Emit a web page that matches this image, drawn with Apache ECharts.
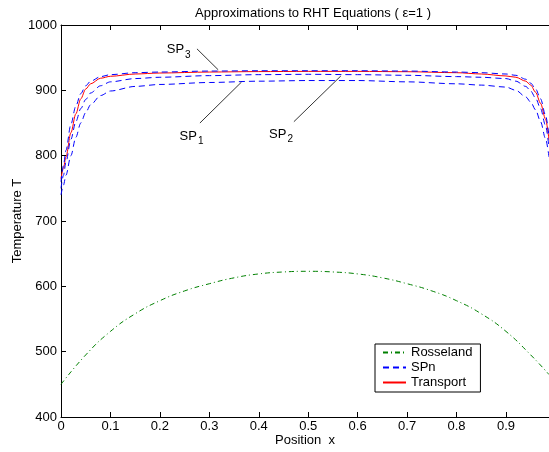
<!DOCTYPE html>
<html><head><meta charset="utf-8">
<script src="https://cdn.jsdelivr.net/npm/echarts@6/dist/echarts.min.js"></script>
<style>html,body{margin:0;padding:0;background:#fff}#c{width:549px;height:452px}</style>
</head><body><div id="c"></div>
<script>
// ---- data ----
const xSP = [0, 0.005, 0.01, 0.02, 0.03, 0.04, 0.05, 0.06, 0.08, 0.1, 0.15, 0.2, 0.3, 0.4, 0.5, 0.6, 0.7, 0.8, 0.85, 0.9, 0.92, 0.94, 0.95, 0.96, 0.97, 0.98, 0.987];
const transport = [765, 781, 798, 835, 864, 887, 902, 910, 918.5, 921.5, 925, 926.5, 928, 928.7, 929, 929, 928.5, 927, 925, 922, 920, 914, 908, 897, 880, 856, 824];
const sp3 = [760, 785, 808, 848, 876, 895, 907, 914, 921, 924, 927, 928, 929.5, 930, 930, 930, 929.5, 928, 927, 925, 923, 917, 911, 902, 887, 862, 830];
const sp2 = [750, 770, 790, 825, 852, 872, 886, 896, 907, 913, 918, 920, 922.5, 924, 924.5, 924, 923, 921, 920, 918, 914, 906, 899, 888, 872, 846, 812];
const sp1 = [740, 755, 770, 800, 828, 850, 866, 878, 892, 899, 906, 909, 912, 914, 915, 915, 913, 910, 908, 905, 900, 890, 882, 870, 852, 826, 798];
const xRoss = [0, 0.05, 0.1, 0.15, 0.2, 0.25, 0.3, 0.35, 0.4, 0.45, 0.5, 0.55, 0.6, 0.65, 0.7, 0.75, 0.8, 0.85, 0.9, 0.95, 0.987];
const rosseland = [450, 495, 531, 558, 578, 593, 604, 613, 619, 622, 623, 622, 619, 613, 604, 593, 578, 558, 531, 495, 465];
const legendNames = ['Rosseland', 'SPn', 'Transport'];
// annotations: [label, subscript, textX, textY, lineFromX, lineFromY, lineToX, lineToY] in data units
const annots = [
  ['SP', '3', 0.238, 962, 0.275, 963.5, 0.318, 931.4],
  ['SP', '1', 0.264, 830, 0.281, 850, 0.365, 912.6],
  ['SP', '2', 0.445, 833, 0.471, 852, 0.566, 922]
];

const zip = (xs, ys) => xs.map((x, i) => [x, ys[i]]);
const FONT = 'Liberation Sans, Arial, Helvetica, sans-serif';
const chart = echarts.init(document.getElementById('c'), null, {renderer: 'canvas'});

const lineBase = {type: 'line', symbol: 'none', smooth: 0.3, smoothMonotone: 'x', animation: false};
chart.setOption({
  backgroundColor: '#fff',
  animation: false,
  title: {text: 'Approximations to RHT Equations ( \u03b5=1 )', left: 308, textAlign: 'center', top: 2,
    textStyle: {fontFamily: FONT, fontSize: 13, fontWeight: 'normal', color: '#000'}},
  grid: {left: 61, top: 25, right: 0, bottom: 35, containLabel: false, outerBoundsMode: 'none'},
  legend: {data: legendNames, orient: 'vertical', left: 375, top: 344, width: 108,
    padding: [2, 8, 3, 7], itemGap: 2, itemWidth: 23, itemHeight: 14,
    borderColor: '#000', borderWidth: 1, backgroundColor: '#fff',
    itemStyle: {opacity: 0},
    textStyle: {fontFamily: FONT, fontSize: 13, color: '#000'}},
  xAxis: [{
    type: 'value', min: 0, max: 0.987, interval: 0.1, position: 'bottom',
    name: 'Position  x', nameLocation: 'middle', nameGap: 17, nameMoveOverlap: false,
    nameTextStyle: {fontFamily: FONT, fontSize: 13, color: '#000', verticalAlign: 'top'},
    axisLine: {lineStyle: {color: '#000', width: 1}},
    axisTick: {inside: true, length: 5, lineStyle: {color: '#000'}},
    axisLabel: {fontFamily: FONT, fontSize: 13, color: '#000', margin: 3, showMaxLabel: false,
      formatter: v => v === 0 ? '0' : v.toFixed(1)},
    splitLine: {show: false}
  }, {
    type: 'value', min: 0, max: 0.987, interval: 0.1, position: 'top',
    axisLine: {onZero: false, lineStyle: {color: '#000', width: 1}},
    axisTick: {inside: true, length: 5, lineStyle: {color: '#000'}},
    axisLabel: {show: false}, splitLine: {show: false}
  }],
  yAxis: {
    type: 'value', min: 400, max: 1000, interval: 100,
    name: 'Temperature T', nameLocation: 'middle', nameGap: 37, nameRotate: 90, nameMoveOverlap: false,
    nameTextStyle: {fontFamily: FONT, fontSize: 13, color: '#000'},
    axisLine: {show: true, lineStyle: {color: '#000', width: 1}},
    axisTick: {show: true, inside: true, length: 5, lineStyle: {color: '#000'}},
    axisLabel: {fontFamily: FONT, fontSize: 13, color: '#000', margin: 4, formatter: v => String(v)},
    splitLine: {show: false}
  },
  series: [
    {type: 'line', symbol: 'none', smooth: 0.5, animation: false,
      name: 'Rosseland', data: zip(xRoss, rosseland), z: 2,
      lineStyle: {color: '#008000', width: 1, type: [5, 3, 1, 3]}, itemStyle: {color: '#008000'}},
    Object.assign({}, lineBase, {name: 'Transport', data: zip(xSP, transport), z: 2,
      lineStyle: {color: '#ff0000', width: 1}, itemStyle: {color: '#ff0000'}}),
    Object.assign({}, lineBase, {name: 'SPn', data: zip(xSP, sp1), z: 3,
      lineStyle: {color: '#0000ff', width: 1, type: [6, 4]}, itemStyle: {color: '#0000ff'}}),
    Object.assign({}, lineBase, {name: 'SPn', data: zip(xSP, sp2), z: 3,
      lineStyle: {color: '#0000ff', width: 1, type: [6, 4]}, itemStyle: {color: '#0000ff'}}),
    Object.assign({}, lineBase, {name: 'SPn', data: zip(xSP, sp3), z: 3,
      lineStyle: {color: '#0000ff', width: 1, type: [6, 4]}, itemStyle: {color: '#0000ff'}})
  ]
});

// annotations anchored to data coordinates
const g = [];
annots.forEach(a => {
  const t = chart.convertToPixel({xAxisIndex: 0, yAxisIndex: 0}, [a[2], a[3]]);
  const p1 = chart.convertToPixel({xAxisIndex: 0, yAxisIndex: 0}, [a[4], a[5]]);
  const p2 = chart.convertToPixel({xAxisIndex: 0, yAxisIndex: 0}, [a[6], a[7]]);
  g.push({type: 'line', shape: {x1: p1[0], y1: p1[1], x2: p2[0], y2: p2[1]},
    style: {stroke: '#000', lineWidth: 0.8}, z: 10});
  g.push({type: 'text', x: t[0], y: t[1], z: 10,
    style: {text: a[0] + '{s|' + a[1] + '}', align: 'center', verticalAlign: 'middle',
      fontFamily: FONT, fontSize: 13, fill: '#000',
      rich: {s: {fontFamily: FONT, fontSize: 10, padding: [10, 0, 0, 1], fill: '#000'}}}});
});
chart.setOption({graphic: g});
</script>
</body></html>
